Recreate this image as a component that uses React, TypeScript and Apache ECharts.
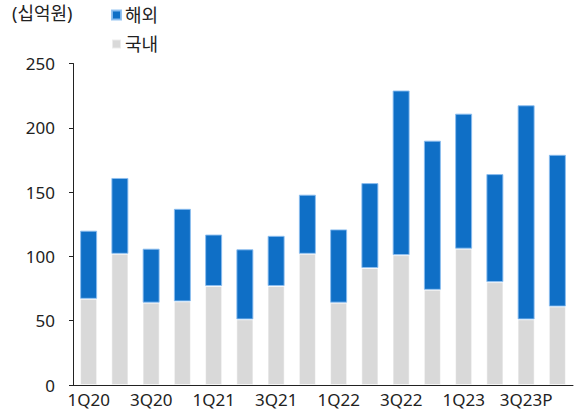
import React, { useEffect, useRef } from "react";
import * as echarts from "echarts";

const categories = [
  "1Q20", "2Q20", "3Q20", "4Q20",
  "1Q21", "2Q21", "3Q21", "4Q21",
  "1Q22", "2Q22", "3Q22", "4Q22",
  "1Q23", "2Q23", "3Q23P", "4Q23P",
];
const domestic = [67, 102, 64, 65, 77, 51, 77, 102, 64, 91, 101, 74, 106, 80, 51, 61];
const overseas = [53, 59, 42, 72, 40, 54.5, 39, 46, 57, 66, 128, 116, 105, 84, 166.5, 118];
const yTicks = { min: 0, max: 250, interval: 50 };
const unitLabel = "(십억원)";
const seriesNames = { overseas: "해외", domestic: "국내" };

const FONT = "'Noto Sans', 'Noto Sans CJK KR', sans-serif";

export default function App() {
  const ref = useRef<HTMLDivElement>(null);
  useEffect(() => {
    if (!ref.current) return;
    const chart = echarts.init(ref.current, null, { renderer: "svg" });
    chart.setOption({
      animation: false,
      grid: { left: 73, right: 1, top: 63.5, bottom: 35, containLabel: false },
      graphic: [
        {
          type: "text",
          left: 12,
          top: 4,
          style: { text: unitLabel, fontSize: 18, fontFamily: FONT, fill: "#222" },
        },
      ],
      legend: {
        orient: "vertical",
        left: 111,
        top: 4.5,
        padding: 0,
        itemWidth: 9,
        itemHeight: 9,
        itemGap: 8,
        icon: "rect",
        data: [seriesNames.overseas, seriesNames.domestic],
        textStyle: { fontSize: 18, fontFamily: FONT, color: "#222", lineHeight: 21, padding: [0, 0, 0, -1] },
      },
      xAxis: {
        type: "category",
        data: categories,
        boundaryGap: true,
        axisLine: { lineStyle: { color: "#222", width: 1 } },
        axisTick: { interval: 1, length: 5, lineStyle: { color: "#222" } },
        axisLabel: {
          interval: 1,
          fontSize: 17,
          fontFamily: FONT,
          color: "#222",
          margin: 6,
        },
      },
      yAxis: {
        type: "value",
        min: yTicks.min,
        max: yTicks.max,
        interval: yTicks.interval,
        splitLine: { show: false },
        axisLine: { show: true, lineStyle: { color: "#222", width: 1 } },
        axisTick: { show: true, length: 4, lineStyle: { color: "#222" } },
        axisLabel: { fontSize: 17, fontFamily: FONT, color: "#222", margin: 18 },
      },
      series: [
        {
          name: seriesNames.domestic,
          type: "bar",
          stack: "total",
          data: domestic,
          barWidth: 17,
          itemStyle: { color: "#D9D9D9", borderColor: "rgba(255,255,255,0.5)", borderWidth: 1 },
        },
        {
          name: seriesNames.overseas,
          type: "bar",
          stack: "total",
          data: overseas,
          barWidth: 17,
          itemStyle: { color: "#0F6FC6", borderColor: "rgba(140,190,240,0.9)", borderWidth: 1 },
        },
      ],
    });
    return () => chart.dispose();
  }, []);
  return <div ref={ref} style={{ width: 574, height: 420, position: "absolute", left: 0, top: 0 }} />;
}
